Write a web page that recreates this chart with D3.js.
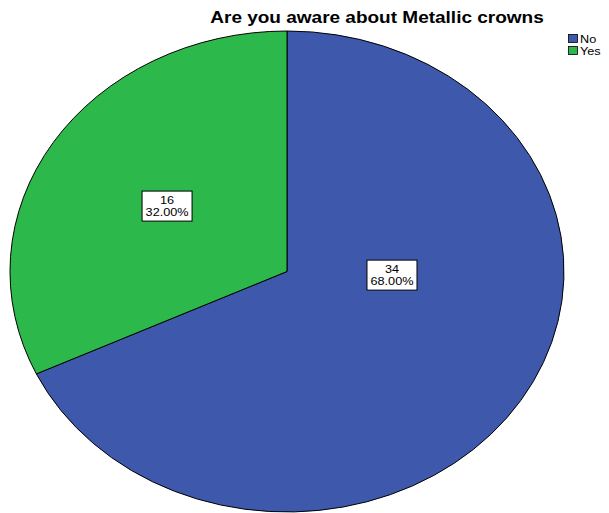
<!DOCTYPE html>
<html>
<head>
<meta charset="utf-8">
<script src="https://cdn.jsdelivr.net/npm/d3@7"></script>
<style>
  html, body { margin: 0; padding: 0; background: #fff; }
  svg { display: block; font-family: "Liberation Sans", Arial, sans-serif; }
</style>
</head>
<body>
<svg id="chart" width="609" height="513"></svg>
<script>
// ---- data ----
const categories = ["No", "Yes"];
const counts = [34, 16];
const percents = ["68.00%", "32.00%"];
const colors = ["#3E58AC", "#2DB84B"];
const title = "Are you aware about Metallic crowns";

// ---- layout ----
const W = 609, H = 513;
const cx = 287, cy = 271.5, rx = 277, ry = 240.5;
const R = 100; // unit radius, scaled to ellipse
const sx = rx / ry; // horizontal stretch of the whole picture (applied to text too)
// label anchor positions as fractions of radii (relative to center)
const labelFrac = [[0.379, 0.015], [-0.433, -0.272]];

const svg = d3.select("#chart");

const data = categories.map((c, i) => ({ cat: c, value: counts[i], pct: percents[i], color: colors[i], idx: i }));

const pie = d3.pie().sort(null).value(d => d.value);
const arc = d3.arc().innerRadius(0).outerRadius(R);
const arcs = pie(data);

const g = svg.append("g")
  .attr("transform", `translate(${cx},${cy}) scale(${rx / R},${ry / R})`);

g.selectAll("path")
  .data(arcs)
  .join("path")
  .attr("d", arc)
  .attr("fill", d => d.data.color)
  .attr("stroke", "#000")
  .attr("stroke-width", 1)
  .attr("vector-effect", "non-scaling-stroke");

// labels
const lab = svg.append("g");
arcs.forEach((a, i) => {
  const [fx, fy] = labelFrac[i];
  const lx = cx + fx * rx, ly = cy + fy * ry;
  const bw = 50, bh = 30;
  const lg = lab.append("g").attr("transform", `translate(${lx},${ly})`);
  lg.append("rect")
    .attr("x", -bw / 2).attr("y", -bh / 2)
    .attr("width", bw).attr("height", bh)
    .attr("fill", "#fff").attr("stroke", "#000").attr("stroke-width", 1);
  const tg = lg.append("g").attr("transform", `scale(${sx},1)`);
  tg.append("text")
    .attr("text-anchor", "middle")
    .attr("y", -2.5)
    .attr("font-size", 11)
    .attr("fill", "#000")
    .text(a.data.value);
  tg.append("text")
    .attr("text-anchor", "middle")
    .attr("y", 10)
    .attr("font-size", 11)
    .attr("fill", "#000")
    .text(a.data.pct);
});

// title
svg.append("g")
  .attr("transform", `translate(377,23) scale(${sx},1)`)
  .append("text")
  .attr("text-anchor", "middle")
  .attr("font-size", 16.5)
  .attr("font-weight", "bold")
  .attr("fill", "#000")
  .text(title);

// legend
const legend = svg.append("g").attr("transform", "translate(568,34)");
data.forEach((d, i) => {
  const row = legend.append("g").attr("transform", `translate(0,${i * 12})`);
  row.append("rect")
    .attr("x", 0.5).attr("y", 0.5)
    .attr("width", 9).attr("height", 8)
    .attr("fill", d.color).attr("stroke", "#000").attr("stroke-width", 0.8);
  row.append("g")
    .attr("transform", `translate(12,8.5) scale(${sx},1)`)
    .append("text")
    .attr("font-size", 11)
    .attr("fill", "#000")
    .text(d.cat);
});
</script>
</body>
</html>
